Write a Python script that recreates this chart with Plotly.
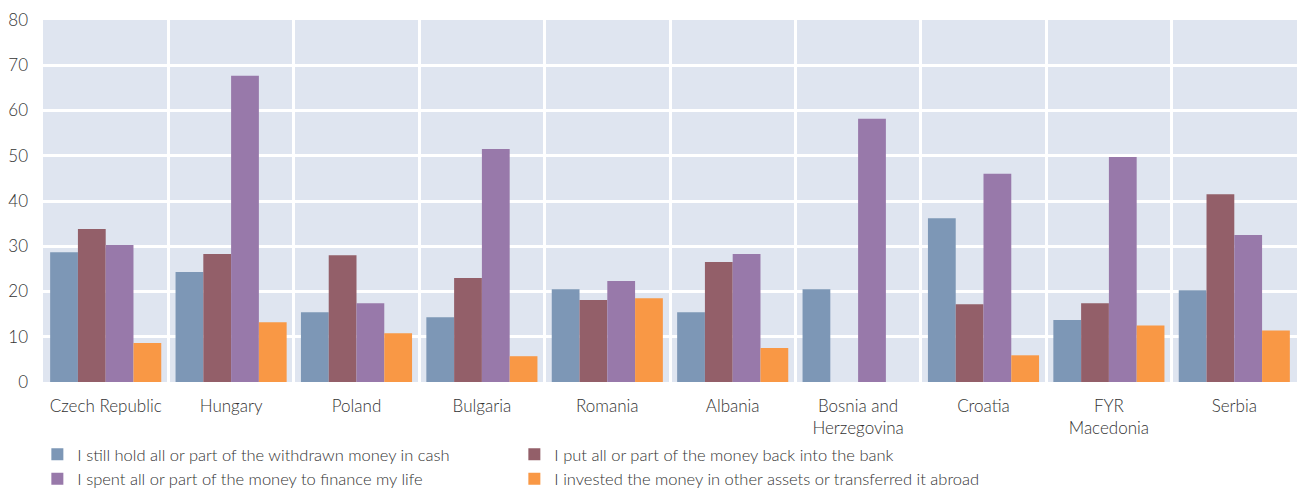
import plotly.graph_objects as go

# Countries (x categories); <br> splits the long names over two lines
countries = ["Czech Republic", "Hungary", "Poland", "Bulgaria", "Romania",
             "Albania", "Bosnia and<br>Herzegovina", "Croatia", "FYR<br>Macedonia", "Serbia"]

# Share of respondents (%) per use of withdrawn deposits
hold_cash = [28.7, 24.3, 15.4, 14.3, 20.5, 15.4, 20.5, 36.2, 13.7, 20.3]
back_to_bank = [33.8, 28.3, 28.0, 23.0, 18.1, 26.5, None, 17.2, 17.4, 41.5]
spent = [30.3, 67.7, 17.4, 51.5, 22.3, 28.3, 58.2, 46.0, 49.7, 32.5]
invested = [8.6, 13.2, 10.8, 5.7, 18.5, 7.5, None, 5.9, 12.5, 11.4]

series_names = [
    "I still hold all or part of the withdrawn money in cash",
    "I put all or part of the money back into the bank",
    "I spent all or part of the money to finance my life",
    "I invested the money in other assets or transferred it abroad",
]
series_values = [hold_cash, back_to_bank, spent, invested]
series_colors = ["#7D97B6", "#935F69", "#9879AA", "#F99845"]

y_ticks = [0, 10, 20, 30, 40, 50, 60, 70, 80]

FONT = "Lato, 'Open Sans', sans-serif"
TEXT = "#333333"
FS = 17

fig = go.Figure()
for name, vals, color in zip(series_names, series_values, series_colors):
    fig.add_trace(go.Bar(x=countries, y=vals, name=name,
                         marker=dict(color=color, line=dict(width=0))))

fig.update_layout(
    width=1299, height=490,
    margin=dict(l=43, r=2, t=20, b=108, autoexpand=False),
    barmode="group", bargap=0.114, bargroupgap=0,
    plot_bgcolor="#DFE5F0", paper_bgcolor="white",
    font=dict(family=FONT, size=FS, color=TEXT, weight=300),
    showlegend=True,
    legend=dict(orientation="h", x=-0.0045, xanchor="left",
                y=-0.152, yanchor="top",
                entrywidth=432, tracegroupgap=0,
                font=dict(family=FONT, size=16.5, color=TEXT, weight=300),
                bgcolor="rgba(0,0,0,0)"),
)
fig.update_xaxes(type="category", tickson="boundaries", automargin=False,
                 showgrid=True, gridcolor="white", gridwidth=3,
                 ticks="", ticklabelstandoff=12, showline=False, zeroline=False,
                 tickfont=dict(family=FONT, size=FS, color=TEXT, weight=300))
fig.update_yaxes(range=[0, 80], tickvals=y_ticks, showgrid=True, automargin=False,
                 gridcolor="white", gridwidth=3, zeroline=False, showline=False,
                 ticks="", ticklabelstandoff=14,
                 tickfont=dict(family=FONT, size=FS, color=TEXT, weight=300))

fig.write_html("out.html")
